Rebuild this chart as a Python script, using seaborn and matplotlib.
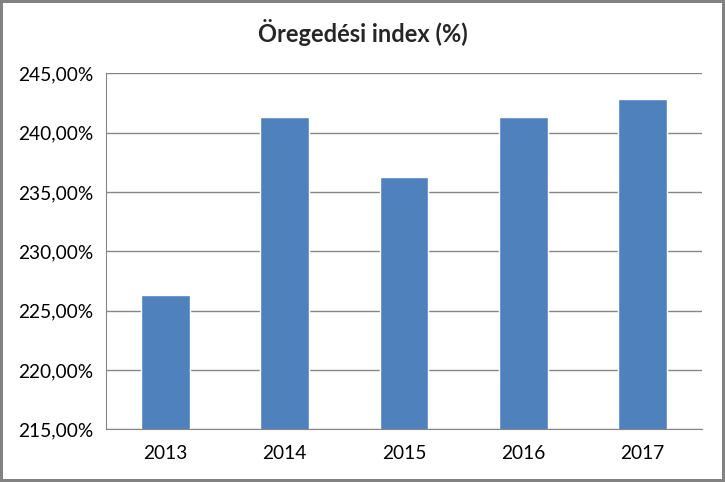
import matplotlib
matplotlib.use('Agg')
import seaborn as sns
import matplotlib.pyplot as plt
from matplotlib.ticker import FuncFormatter, MultipleLocator
import pandas as pd

years = ['2013', '2014', '2015', '2016', '2017']
index_values = [226.35, 241.35, 236.27, 241.35, 242.87]

df = pd.DataFrame({'ev': years, 'index': index_values})

sns.set_style('white')
plt.rcParams['font.family'] = ['Lato', 'DejaVu Sans']

fig = plt.figure(figsize=(7.25, 4.82), dpi=100, linewidth=3, edgecolor='#828282')
ax = fig.add_axes([106 / 725, 1 - 429.3 / 482, 596 / 725, (429.3 - 73.3) / 482])

sns.barplot(data=df, x='ev', y='index', color='#4F81BD', saturation=1, width=0.41, ax=ax)

ax.set_ylim(215, 245)
ax.set_xlim(-0.5, 4.5)
ax.yaxis.set_major_locator(MultipleLocator(5))
ax.yaxis.set_major_formatter(FuncFormatter(lambda v, p: f'{v:.2f}'.replace('.', ',') + '%'))
ax.grid(axis='y', color='#868686', linewidth=1)
ax.set_axisbelow(True)

for s in ['top', 'right']:
    ax.spines[s].set_visible(False)
ax.spines['left'].set_color('#868686')
ax.spines['bottom'].set_color('#868686')

ax.set_xticks([i - 0.5 for i in range(6)], minor=True)
ax.tick_params(axis='x', which='major', length=0, pad=11, labelsize=13.8, colors='black')
ax.tick_params(axis='x', which='minor', length=5, color='#868686', direction='out')
ax.tick_params(axis='y', length=6, direction='out', labelsize=13.8, pad=3)
ax.tick_params(axis='y', colors='#868686', labelcolor='black')

ax.set_xlabel('')
ax.set_ylabel('')
fig.text(0.5, 1 - 33 / 482, 'Öregedési index (%)', ha='center', va='center',
         fontsize=17, fontweight='bold')

fig.savefig('out.png', dpi=100, edgecolor=fig.get_edgecolor())
